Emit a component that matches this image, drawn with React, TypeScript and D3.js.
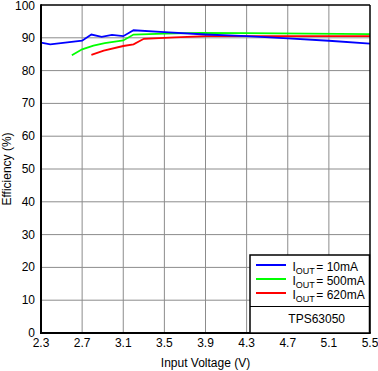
import * as d3 from 'd3';
import React, { useRef, useEffect } from 'react';

// input voltage (V) / efficiency (%)
const vin10 = [2.3, 2.39, 2.7, 2.79, 2.89, 2.99, 3.1, 3.2, 3.5, 3.9, 4.3, 4.7, 5.1, 5.5];
const eff10 = [88.5, 88.0, 89.1, 91.0, 90.3, 90.9, 90.5, 92.3, 91.7, 91.0, 90.5, 89.8, 89.1, 88.2];
const vin500 = [2.6, 2.7, 2.81, 2.92, 3.1, 3.2, 3.5, 3.85, 4.3, 4.9, 5.5];
const eff500 = [84.7, 86.5, 87.6, 88.4, 89.2, 91.0, 91.3, 91.5, 91.4, 91.3, 91.1];
const vin620 = [2.79, 2.91, 3.1, 3.2, 3.3, 3.6, 3.91, 4.5, 5.5];
const eff620 = [84.8, 86.1, 87.5, 88.0, 89.7, 90.1, 90.5, 90.5, 90.5];

const xTicks = [2.3, 2.7, 3.1, 3.5, 3.9, 4.3, 4.7, 5.1, 5.5];
const yTicks = [0, 10, 20, 30, 40, 50, 60, 70, 80, 90, 100];

const seriesNames = ['10mA', '500mA', '620mA'];
const seriesColors = ['#0000ff', '#00ff00', '#ff0000'];

function Chart({ width, height }) {
    const ref = useRef();

    useEffect(() => {
        draw();
    }, []);

    const draw = () => {
        const left = 41;
        const right = 370;
        const top = 5;
        const bottom = 333;
        const font = 'Arial, "Liberation Sans", sans-serif';

        const svg = d3.select(ref.current);
        svg.selectAll('*').remove();

        const x = d3.scaleLinear().domain([2.3, 5.5]).range([left, right]);
        const y = d3.scaleLinear().domain([0, 100]).range([bottom, top]);

        svg.append('rect')
            .attr('width', width).attr('height', height).attr('fill', '#fff');

        // grid
        svg.append('g').selectAll('line').data(xTicks.slice(1, -1)).enter()
            .append('line')
            .attr('x1', d => x(d)).attr('x2', d => x(d))
            .attr('y1', top).attr('y2', bottom)
            .attr('stroke', '#8c8c8c').attr('stroke-width', 1);
        svg.append('g').selectAll('line').data(yTicks.slice(1, -1)).enter()
            .append('line')
            .attr('x1', left).attr('x2', right)
            .attr('y1', d => y(d)).attr('y2', d => y(d))
            .attr('stroke', '#8c8c8c').attr('stroke-width', 1);

        // data
        const line = d3.line().x(d => x(d[0])).y(d => y(d[1]));
        const sets = [
            d3.zip(vin10, eff10),
            d3.zip(vin500, eff500),
            d3.zip(vin620, eff620),
        ];
        // draw red first, blue on top
        [2, 1, 0].forEach(i => {
            svg.append('path')
                .attr('d', line(sets[i]))
                .attr('fill', 'none')
                .attr('stroke', seriesColors[i])
                .attr('stroke-width', 1.8);
        });

        // frame
        svg.append('line').attr('x1', left).attr('x2', right).attr('y1', top).attr('y2', top)
            .attr('stroke', '#000').attr('stroke-width', 1.5);
        svg.append('line').attr('x1', right).attr('x2', right).attr('y1', top).attr('y2', bottom)
            .attr('stroke', '#000').attr('stroke-width', 1.5);
        svg.append('line').attr('x1', left).attr('x2', left).attr('y1', top - 0.75).attr('y2', bottom + 1)
            .attr('stroke', '#000').attr('stroke-width', 2);
        svg.append('line').attr('x1', left - 1).attr('x2', right + 0.75).attr('y1', bottom).attr('y2', bottom)
            .attr('stroke', '#000').attr('stroke-width', 2);

        // tick labels
        svg.append('g').selectAll('text').data(yTicks).enter()
            .append('text')
            .attr('x', 35).attr('y', d => Math.max(y(d) + 4, 10))
            .attr('text-anchor', 'end')
            .attr('font-family', font).attr('font-size', 12).attr('fill', '#000')
            .text(d => d);
        svg.append('g').selectAll('text').data(xTicks).enter()
            .append('text')
            .attr('x', d => x(d)).attr('y', bottom + 14)
            .attr('text-anchor', 'middle')
            .attr('font-family', font).attr('font-size', 12).attr('fill', '#000')
            .text(d => d.toFixed(1));

        // axis titles
        svg.append('text')
            .attr('x', (left + right) / 2).attr('y', 367)
            .attr('text-anchor', 'middle')
            .attr('font-family', font).attr('font-size', 12).attr('fill', '#000')
            .text('Input Voltage (V)');
        svg.append('text')
            .attr('transform', `translate(11,${(top + bottom) / 2}) rotate(-90)`)
            .attr('text-anchor', 'middle')
            .attr('font-family', font).attr('font-size', 12).attr('fill', '#000')
            .text('Efficiency (%)');

        // legend
        const lg = svg.append('g');
        lg.append('rect')
            .attr('x', 250).attr('y', 255).attr('width', 119.5).attr('height', 78)
            .attr('fill', '#fff').attr('stroke', '#000').attr('stroke-width', 1.5);
        lg.append('line').attr('x1', 250).attr('x2', 369.5).attr('y1', 306.5).attr('y2', 306.5)
            .attr('stroke', '#000').attr('stroke-width', 1);
        seriesNames.forEach((name, i) => {
            const ly = 265 + i * 14;
            lg.append('line')
                .attr('x1', 256).attr('x2', 286).attr('y1', ly).attr('y2', ly)
                .attr('stroke', seriesColors[i]).attr('stroke-width', 2);
            const t = lg.append('text')
                .attr('x', 292.5).attr('y', ly + 6)
                .attr('font-family', font).attr('font-size', 12).attr('fill', '#000');
            t.append('tspan').text('I');
            t.append('tspan').attr('font-size', 9).attr('dy', 3).text('OUT');
            t.append('tspan').attr('dy', -3).attr('dx', 1.5).text(`= ${name}`);
        });
        lg.append('text')
            .attr('x', 316.7).attr('y', 322.5)
            .attr('text-anchor', 'middle')
            .attr('font-family', font).attr('font-size', 12).attr('fill', '#000')
            .text('TPS63050');
    };

    return (
        <svg ref={ref} width={width} height={height} style={{ display: 'block' }}></svg>
    );
}

export default function App() {
    return (
        <div style={{ position: 'absolute', left: 0, top: 0 }}>
            <Chart width={378} height={371} />
        </div>
    );
}
